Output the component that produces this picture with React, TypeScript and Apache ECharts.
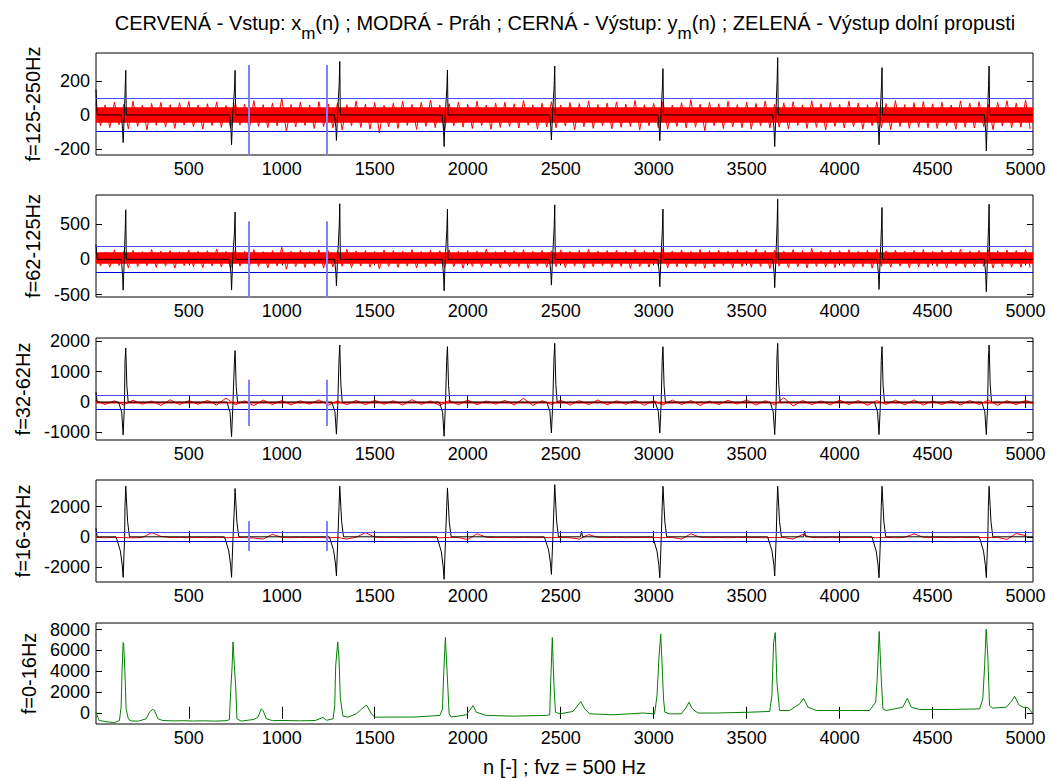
import React, { useEffect, useRef } from "react";
import * as echarts from "echarts";

const FONT = "Liberation Sans, Arial, sans-serif";

const X_MIN = 1;
const X_MAX = 5040;
const X_TICKS = [500, 1000, 1500, 2000, 2500, 3000, 3500, 4000, 4500, 5000];

const PANEL_NAMES = ["f=125-250Hz", "f=62-125Hz", "f=32-62Hz", "f=16-32Hz", "f=0-16Hz"];
const Y_MIN = [-236, -535, -1250, -2990, -1076];
const Y_MAX = [365, 914, 2110, 3760, 8638];
const Y_TICKS = [
  [-200, 0, 200],
  [-500, 0, 500],
  [-1000, 0, 1000, 2000],
  [-2000, 0, 2000],
  [0, 2000, 4000, 6000, 8000],
];

// QRS spike positions (samples)
const SPIKE_DOWN_N = [147, 730, 1294, 1873, 2450, 3033, 3651, 4212, 4789];
const SPIKE_UP_N = [161, 749, 1312, 1891, 2468, 3050, 3667, 4228, 4804];

// output y_m(n) spike amplitudes per band
const P1_DOWN = [-163, -176, -150, -186, -147, -152, -186, -176, -212];
const P1_UP = [263, 263, 315, 265, 288, 273, 338, 279, 288];
const P2_DOWN = [-437, -437, -375, -446, -366, -389, -403, -427, -460];
const P2_UP = [704, 672, 789, 713, 774, 713, 854, 736, 783];
const P3_DOWN = [-1080, -1147, -1059, -1126, -1016, -1016, -1071, -1071, -1071];
const P3_UP = [1783, 1695, 1882, 1825, 1935, 1825, 1935, 1825, 1880];
const P4_DOWN = [-2680, -2680, -2574, -2816, -2486, -2706, -2596, -2706, -2706];
const P4_UP = [3346, 3195, 3346, 3234, 3454, 3344, 3344, 3344, 3344];
const START_VALUE = [150, 211, 330, 550];
const P4_BLIP_N = [2612, 3812];
const P4_BLIP_V = [370, 370];

// thresholds (MODRÁ - Práh) and window markers
const THRESHOLD = [98, 185, 240, 310];
const MARKER_N = [824, 1243];
const MARKER_LO = [-236, -535, -787, -924];
const MARKER_HI = [294, 540, 734, 1036];

// input x_m(n): dense noise core and jagged peaks
const NOISE_CORE_LO = [-46, -62, -45];
const NOISE_CORE_HI = [46, 100, 10];
const NOISE_STEP_FINE = 50;
const NOISE_STEP_COARSE = 100;
const P1_NOISE_HI = [
  70, 58, 76, 62, 81, 57, 68, 74, 60, 72,
  79, 59, 66, 77, 56, 71, 63, 84, 61, 69,
  98, 62, 75, 58, 78, 65, 71, 60, 82, 64,
  73, 57, 69, 80, 62, 74, 88, 59, 67, 76,
  63, 81, 58, 70, 75, 66, 85, 60, 69, 78,
  59, 73, 67, 83, 61, 70, 77, 64, 86, 60,
  68, 79, 58, 72, 90, 63, 74, 66, 80, 61,
  75, 68, 82, 62, 71, 78, 59, 84, 66, 73,
  63, 81, 70, 60, 77, 67, 85, 61, 72, 79,
  66, 75, 59, 83, 69, 78, 62, 74, 84, 70,
  88,
];
const P1_NOISE_LO = [
  -64, -75, -58, -82, -68, -88, -61, -72, -79, -59,
  -70, -83, -62, -73, -78, -60, -86, -67, -75, -65,
  -100, -71, -62, -80, -69, -76, -88, -64, -73, -83,
  -105, -70, -79, -62, -85, -68, -75, -90, -65, -72,
  -80, -63, -84, -73, -68, -77, -60, -83, -71, -76,
  -66, -87, -70, -79, -62, -82, -73, -69, -89, -64,
  -75, -83, -68, -77, -72, -93, -63, -80, -70, -75,
  -84, -65, -76, -72, -82, -62, -79, -73, -88, -68,
  -77, -70, -83, -64, -75, -86, -68, -79, -72, -76,
  -80, -63, -84, -73, -77, -69, -87, -65, -75, -72,
  -82,
];
const P2_NOISE_HI = [
  120, 105, 135, 115, 128, 110, 140, 118, 125, 108,
  132, 115, 122, 145, 112, 127, 118, 138, 110, 124,
  170, 116, 129, 112, 136, 121, 115, 142, 119, 126,
  111, 133, 124, 117, 139, 113, 128, 121, 135, 116,
  125, 118, 146, 112, 130, 122, 137, 115, 127, 120,
  134, 113, 128, 142, 118, 125, 131, 116, 139, 122,
  127, 150, 119, 133, 114, 140, 124, 129, 117, 136,
  121, 145, 126, 132, 115, 138, 123, 155, 118, 130,
  124, 137, 116, 129, 141, 120, 133, 118, 127, 139,
  115, 131, 124, 143, 119, 128, 136, 122, 133, 126,
  140,
];
const P2_NOISE_LO = [
  -95, -110, -88, -120, -102, -92, -115, -98, -125, -90,
  -105, -118, -93, -108, -130, -96, -112, -100, -122, -94,
  -140, -103, -116, -91, -124, -107, -99, -118, -95, -111,
  -135, -101, -114, -97, -121, -106, -93, -117, -104, -126,
  -99, -112, -95, -119, -108, -102, -127, -96, -113, -105,
  -117, -98, -123, -107, -94, -115, -101, -129, -103, -110,
  -96, -120, -105, -113, -99, -126, -108, -94, -118, -104,
  -112, -100, -131, -97, -115, -106, -122, -101, -109, -118,
  -98, -114, -105, -125, -100, -111, -96, -119, -107, -113,
  -102, -121, -97, -116, -108, -99, -124, -104, -112, -110,
  -115,
];
const P3_NOISE_HI = [
  50, 40, 60, 35, 75, 45, 55, 130, 40, 65,
  50, 45, 70, 35, 55, 60, 45, 80, 40, 50,
  65, 35, 55, 120, 45, 60, 50, 70, 40, 55,
  45, 65, 50, 35, 60, 75, 45, 140, 55, 40,
  65, 50, 45, 60, 70, 40, 55, 50, 65, 45,
  60,
];
const P3_NOISE_LO = [
  -80, -95, -70, -110, -85, -75, -100, -90, -120, -80,
  -95, -70, -105, -85, -90, -75, -100, -80, -115, -90,
  -85, -70, -95, -110, -80, -100, -85, -90, -75, -105,
  -95, -80, -110, -85, -70, -100, -90, -130, -85, -95,
  -80, -105, -75, -90, -100, -85, -95, -80, -110, -90,
  -85,
];
const P4_INPUT = [
  -30, -60, -40, -50, -70, -45, 280, 30, -50, -35,
  -60, -40, -55, -30, -60, -40, -50, -80, -150, 170,
  -40, -60, -35, -55, -40, -65, -40, -150, -30, 280,
  -20, -55, -40, -60, -35, -50, -45, -60, -40, -50,
  -180, 200, -30, -55, -40, -60, -35, -55, -45, -50,
  -40, -60, -150, 150, -40, -55, -35, -60, -45, -50,
  -40, -55, -35, -150, 200, -30, -55, -40, -60, -35,
  -50, -45, -60, -40, -50, -150, 150, -40, -55, -35,
  -60, -45, -50, -40, -55, -35, -60, -40, 200, -30,
  -55, -40, -60, -35, -50, -45, -55, -40, -170, 220,
  80,
];

// low-pass output (ZELENÁ)
const GREEN_N = [
  1, 10, 18, 45, 73, 100, 127, 136, 141, 147, 150, 156, 163, 175, 190, 230, 270, 290, 305, 315,
  334, 360, 420, 468, 520, 580, 640, 700, 718, 726, 733, 738, 745, 752, 759, 782, 850, 872, 890, 900,
  917, 950, 1007, 1100, 1180, 1222, 1240, 1276, 1285, 1290, 1301, 1308, 1315, 1329, 1356, 1401, 1446, 1458, 1482, 1500,
  1600, 1706, 1796, 1850, 1864, 1871, 1880, 1891, 1900, 1912, 1993, 2029, 2046, 2100, 2244, 2423, 2441, 2446, 2455, 2463,
  2472, 2495, 2566, 2608, 2629, 2656, 2781, 2942, 3005, 3018, 3028, 3038, 3047, 3053, 3060, 3086, 3149, 3176, 3190, 3208,
  3238, 3337, 3516, 3624, 3636, 3645, 3654, 3663, 3677, 3731, 3785, 3806, 3830, 3875, 4054, 4161, 4194, 4202, 4213, 4224,
  4233, 4251, 4340, 4364, 4385, 4430, 4591, 4753, 4770, 4780, 4788, 4797, 4806, 4824, 4896, 4923, 4941, 4964, 4986, 5013,
  5036,
];
const GREEN_V = [
  60, -400, -740, -820, -890, -950, -740, 540, 4050, 6760, 6600, 4210, 380, -600, -780, -800, -575, 100, 320, 250,
  -575, -740, -780, -760, -790, -770, -800, -760, -670, 2300, 4530, 6820, 4530, 2600, -575, -800, -640, -420, 380, 200,
  -575, -750, -740, -770, -740, -450, -720, -575, 700, 4530, 6820, 5170, 1400, -320, -420, -100, 633, 700, -100, -420,
  -410, -410, -320, -250, 350, 3890, 7240, 3250, -100, -410, -190, 700, 60, -250, -320, -250, -200, 2780, 7240, 2940,
  60, -100, 130, 1080, 380, -100, -190, -20, -100, 1650, 5170, 7560, 4000, 1340, 60, -100, -100, 540, 1020, 380,
  -20, -20, 60, 130, 1650, 6760, 7720, 2940, 220, 220, 860, 1400, 540, 220, 220, 220, 1020, 3250, 7820, 3250,
  380, 220, 540, 1400, 540, 320, 320, 380, 1340, 4530, 8040, 5480, 700, 450, 540, 1080, 1600, 760, 540, 500,
  -20,
];

const TITLE_PARTS = [
  "CERVENÁ - Vstup: x",
  "m",
  "(n) ; MODRÁ - Práh ; CERNÁ - Výstup: y",
  "m",
  "(n) ; ZELENÁ - Výstup dolní propusti",
];
const X_NAME = "n [-] ; fvz = 500 Hz";

// spike shapes: [anchor, offset, fraction of that anchor's amplitude]
type ShapePt = ["d" | "u", number, number];
const SHAPES: ShapePt[][] = [
  [["d", -10, 0], ["d", -3, 0.5], ["d", 0, 1], ["d", 6, 0], ["u", -3, 0.6], ["u", 0, 1], ["u", 3, 0]],
  [["d", -10, 0], ["d", -3, 0.5], ["d", 0, 1], ["d", 6, 0], ["u", -3, 0.6], ["u", 0, 1], ["u", 3, 0]],
  [["d", -25, 0], ["d", -8, 0.3], ["d", 0, 1], ["d", 7, 0.1], ["u", -4, 0.75], ["u", 0, 1], ["u", 6, 0.3], ["u", 13, 0]],
  [["d", -38, 0], ["d", -15, 0.35], ["d", -5, 0.7], ["d", 0, 1], ["d", 8, 0], ["u", -4, 0.6], ["u", 0, 1], ["u", 10, 0.3], ["u", 20, 0]],
];

const GRID_TOPS = [53, 195, 338, 480, 623];
const GRID_H = 102;
const GRID_LEFT = 96;
const GRID_W = 937;

function buildOutput(panel: number, down: number[], up: number[], blipN: number[] = [], blipV: number[] = []) {
  const pts: [number, number][] = [];
  const s = START_VALUE[panel];
  pts.push([1, s], [4, s], [7, 0]);
  const events: { n: number; pts: [number, number][] }[] = [];
  SPIKE_DOWN_N.forEach((d, i) => {
    const u = SPIKE_UP_N[i];
    const p: [number, number][] = SHAPES[panel].map(([a, off, f]) =>
      a === "d" ? [d + off, f * down[i]] : [u + off, f * up[i]]
    );
    events.push({ n: d, pts: p });
  });
  blipN.forEach((n, i) => {
    events.push({ n, pts: [[n - 6, 0], [n, blipV[i]], [n + 6, 0]] });
  });
  events.sort((a, b) => a.n - b.n);
  events.forEach((e) => pts.push(...e.pts));
  pts.push([X_MAX, 0]);
  return pts;
}

// interleave the read peak (hi) and trough (lo) values along n
function noiseTrace(hi: number[], lo: number[], step: number): [number, number][] {
  const out: [number, number][] = [];
  hi.forEach((h, i) => {
    out.push([i * step, h]);
    if (i < lo.length) out.push([i * step + step / 2, lo[i]]);
  });
  return out;
}

function envelope(vals: number[], step: number): [number, number][] {
  return vals.map((v, i) => [i * step, v]);
}

function axisPair(i: number) {
  const xb: any = {
    type: "value",
    gridIndex: i,
    min: X_MIN,
    max: X_MAX,
    position: "bottom",
    axisLine: { show: false },
    splitLine: { show: false },
    axisTick: { show: true, inside: true, length: 6, customValues: X_TICKS, lineStyle: { color: "#000" } },
    axisLabel: {
      show: true,
      customValues: X_TICKS,
      fontSize: 18,
      fontFamily: FONT,
      color: "#000",
      margin: 5,
      formatter: (v: number) => String(v),
    },
  };
  if (i === 4) {
    xb.name = X_NAME;
    xb.nameLocation = "middle";
    xb.nameGap = 33;
    xb.nameTextStyle = { fontSize: 20, fontFamily: FONT, color: "#000" };
  }
  const xt: any = {
    type: "value",
    gridIndex: i,
    min: X_MIN,
    max: X_MAX,
    position: "top",
    axisLine: { show: false },
    splitLine: { show: false },
    axisTick: { show: true, inside: true, length: 6, customValues: X_TICKS, lineStyle: { color: "#000" } },
    axisLabel: { show: false },
  };
  const yl: any = {
    type: "value",
    gridIndex: i,
    min: Y_MIN[i],
    max: Y_MAX[i],
    position: "left",
    axisLine: { show: false },
    splitLine: { show: false },
    axisTick: { show: true, inside: true, length: 6, customValues: Y_TICKS[i], lineStyle: { color: "#000" } },
    axisLabel: {
      show: true,
      customValues: Y_TICKS[i],
      fontSize: 18,
      fontFamily: FONT,
      color: "#000",
      margin: 6,
      formatter: (v: number) => String(v),
    },
    name: PANEL_NAMES[i],
    nameLocation: "middle",
    nameGap: 53,
    nameTextStyle: { fontSize: 20, fontFamily: FONT, color: "#000" },
  };
  const yr: any = {
    type: "value",
    gridIndex: i,
    min: Y_MIN[i],
    max: Y_MAX[i],
    position: "right",
    axisLine: { show: false },
    splitLine: { show: false },
    axisTick: { show: true, inside: true, length: 6, customValues: Y_TICKS[i], lineStyle: { color: "#000" } },
    axisLabel: { show: false },
  };
  return { x: [xb, xt], y: [yl, yr] };
}

function lineSeries(i: number, data: [number, number][], color: string, z: number, extra: any = {}) {
  return {
    type: "line",
    xAxisIndex: 2 * i,
    yAxisIndex: 2 * i,
    data,
    showSymbol: false,
    symbol: "none",
    silent: true,
    lineStyle: { color, width: 1 },
    z,
    ...extra,
  };
}

function noiseSeries(i: number, data: [number, number][]) {
  return lineSeries(i, data, "#ff0000", 2, {
    markArea: {
      silent: true,
      itemStyle: { color: "#ff0000", opacity: 1 },
      data: [[{ xAxis: X_MIN, yAxis: NOISE_CORE_LO[i] }, { xAxis: X_MAX, yAxis: NOISE_CORE_HI[i] }]],
    },
  });
}

function markers(i: number) {
  return {
    symbol: "none",
    silent: true,
    label: { show: false },
    animation: false,
    data: [
      { yAxis: THRESHOLD[i], lineStyle: { color: "#4a4aff", width: 1, type: "solid" } },
      { yAxis: -THRESHOLD[i], lineStyle: { color: "#0000dd", width: 1, type: "solid" } },
      ...MARKER_N.map((n) => [
        { coord: [n, MARKER_LO[i]], lineStyle: { color: "#7f7fff", width: 2, type: "solid" } },
        { coord: [n, MARKER_HI[i]] },
      ]),
    ],
  };
}

export default function App() {
  const ref = useRef<HTMLDivElement>(null);
  useEffect(() => {
    if (!ref.current) return;
    const chart = echarts.init(ref.current, undefined, { renderer: "svg" });

    const grids = GRID_TOPS.map((t) => ({
      left: GRID_LEFT,
      top: t,
      width: GRID_W,
      height: GRID_H,
      show: true,
      borderColor: "#000",
      borderWidth: 1,
      backgroundColor: "transparent",
    }));
    const xAxes: any[] = [];
    const yAxes: any[] = [];
    for (let i = 0; i < 5; i++) {
      const a = axisPair(i);
      xAxes.push(...a.x);
      yAxes.push(...a.y);
    }

    const downs = [P1_DOWN, P2_DOWN, P3_DOWN, P4_DOWN];
    const ups = [P1_UP, P2_UP, P3_UP, P4_UP];
    const series: any[] = [];

    series.push(noiseSeries(0, noiseTrace(P1_NOISE_HI, P1_NOISE_LO, NOISE_STEP_FINE)));
    series.push(noiseSeries(1, noiseTrace(P2_NOISE_HI, P2_NOISE_LO, NOISE_STEP_FINE)));
    series.push(noiseSeries(2, noiseTrace(P3_NOISE_HI, P3_NOISE_LO, NOISE_STEP_COARSE)));
    series.push(lineSeries(3, envelope(P4_INPUT, NOISE_STEP_FINE), "#ff0000", 2));

    for (let i = 0; i < 4; i++) {
      const out =
        i === 3 ? buildOutput(i, downs[i], ups[i], P4_BLIP_N, P4_BLIP_V) : buildOutput(i, downs[i], ups[i]);
      series.push(lineSeries(i, out, "#000000", 4, { markLine: markers(i) }));
    }

    series.push(
      lineSeries(
        4,
        GREEN_N.map((n, k) => [n, GREEN_V[k]] as [number, number]),
        "#008000",
        3
      )
    );

    const titleText =
      `{a|${TITLE_PARTS[0]}}{b|${TITLE_PARTS[1]}}{a|${TITLE_PARTS[2]}}{b|${TITLE_PARTS[3]}}{a|${TITLE_PARTS[4]}}`;

    chart.setOption({
      animation: false,
      backgroundColor: "#ffffff",
      grid: grids,
      xAxis: xAxes,
      yAxis: yAxes,
      series,
      graphic: [
        {
          type: "text",
          x: 565,
          y: 13,
          silent: true,
          style: {
            text: titleText,
            align: "center",
            verticalAlign: "top",
            fill: "#000",
            rich: {
              a: { fontSize: 20, fontFamily: FONT, fill: "#000", lineHeight: 24, verticalAlign: "top" },
              b: { fontSize: 17, fontFamily: FONT, fill: "#000", lineHeight: 17, padding: [12, 0, 0, 0], verticalAlign: "top" },
            },
          },
        },
      ],
    });
    return () => chart.dispose();
  }, []);
  return (
    <div
      ref={ref}
      style={{ position: "absolute", left: 0, top: 0, width: 1051, height: 778, background: "#fff" }}
    />
  );
}
